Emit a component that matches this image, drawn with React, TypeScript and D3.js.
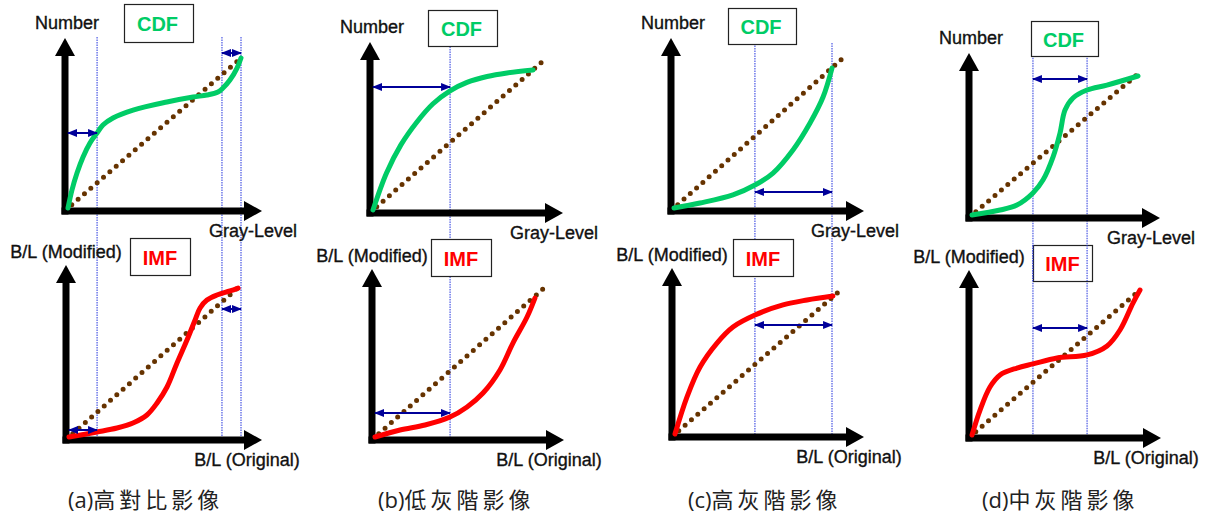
import React from "react";
import * as d3 from "d3";

type Pt = [number, number];
type Arrow = { x0: number; x1: number; y: number };

// ---------- data (normalized gray level 0..1) ----------
const captionTags = ["(a)", "(b)", "(c)", "(d)"];
const captionTexts = ["高對比影像", "低灰階影像", "高灰階影像", "中灰階影像"];

const cdfA: Pt[] = [[0,0],[0.023,0.12],[0.052,0.233],[0.087,0.34],[0.127,0.433],[0.168,0.5],[0.202,0.553],[0.26,0.6],[0.376,0.653],[0.572,0.707],[0.723,0.74],[0.803,0.753],[0.867,0.773],[0.896,0.8],[0.936,0.853],[0.977,0.933],[1,1]];
const imfA: Pt[] = [[0,0],[0.163,0.033],[0.279,0.059],[0.372,0.092],[0.453,0.145],[0.512,0.224],[0.57,0.329],[0.628,0.487],[0.686,0.638],[0.733,0.77],[0.762,0.849],[0.802,0.901],[0.86,0.934],[0.936,0.961],[0.983,0.98]];
const cdfB: Pt[] = [[0,0],[0.08,0.25],[0.165,0.44],[0.26,0.595],[0.355,0.718],[0.456,0.805],[0.556,0.862],[0.675,0.902],[0.793,0.926],[0.947,0.946]];
const imfB: Pt[] = [[0,0],[0.149,0.047],[0.298,0.081],[0.446,0.135],[0.548,0.203],[0.643,0.297],[0.744,0.453],[0.821,0.635],[0.905,0.811],[0.952,0.939]];
const cdfC: Pt[] = [[0,0],[0.154,0.033],[0.349,0.087],[0.479,0.153],[0.586,0.233],[0.704,0.387],[0.805,0.567],[0.882,0.74],[0.935,0.933]];
const imfC: Pt[] = [[0,0],[0.071,0.253],[0.149,0.459],[0.25,0.623],[0.345,0.733],[0.476,0.815],[0.643,0.884],[0.786,0.918],[0.94,0.945]];
const cdfD: Pt[] = [[0,0],[0.168,0.035],[0.269,0.07],[0.365,0.155],[0.425,0.246],[0.485,0.408],[0.527,0.577],[0.557,0.739],[0.605,0.824],[0.689,0.88],[0.808,0.915],[0.994,0.979]];
const imfD: Pt[] = [[0,0],[0.048,0.172],[0.107,0.331],[0.167,0.414],[0.268,0.462],[0.363,0.49],[0.506,0.531],[0.685,0.552],[0.804,0.614],[0.881,0.724],[0.958,0.91],[1,1]];

const thresholdsA = [0.168, 0.89, 1.0];
const thresholdsB = [0.456];
const thresholdsC = [0.479, 0.935];
const thresholdsD = [0.365, 0.689];

const cdfArrowsA: Arrow[] = [{ x0: 0, x1: 0.168, y: 0.5 }, { x0: 0.89, x1: 1, y: 1.033 }];
const cdfArrowsB: Arrow[] = [{ x0: 0, x1: 0.456, y: 0.831 }];
const cdfArrowsC: Arrow[] = [{ x0: 0.479, x1: 0.935, y: 0.107 }];
const cdfArrowsD: Arrow[] = [{ x0: 0.365, x1: 0.689, y: 0.958 }];
const imfArrowsA: Arrow[] = [{ x0: 0, x1: 0.163, y: 0.046 }, { x0: 0.89, x1: 1, y: 0.842 }];
const imfArrowsB: Arrow[] = [{ x0: 0, x1: 0.446, y: 0.162 }];
const imfArrowsC: Arrow[] = [{ x0: 0.476, x1: 0.935, y: 0.747 }];
const imfArrowsD: Arrow[] = [{ x0: 0.363, x1: 0.685, y: 0.738 }];

const diagonal: Pt[] = [[0, 0], [1, 1]];

// ---------- layout ----------
type Box = [number, number, number, number];
interface Layout {
  top: [number, number, number, number]; // ox, oy, w, h
  bot: [number, number, number, number];
  cdfBox: Box;
  imfBox: Box;
  lineTop: number;
  capX: number;
}
const layouts: Layout[] = [
  { top: [68, 208, 173, 150], bot: [69, 437, 172, 152], cdfBox: [124, 4, 69, 38], imfBox: [130, 238, 60, 37], lineTop: 1.14, capX: 68 },
  { top: [373, 210, 169, 148], bot: [375, 437, 168, 148], cdfBox: [428, 10, 69, 36], imfBox: [431, 239, 60, 37], lineTop: 1.105, capX: 378 },
  { top: [674, 208, 169, 150], bot: [675, 434, 168, 146], cdfBox: [728, 8, 68, 36], imfBox: [733, 239, 60, 37], lineTop: 1.1, capX: 688 },
  { top: [972, 215, 167, 142], bot: [972, 435, 168, 145], cdfBox: [1031, 21, 67, 35], imfBox: [1033, 245, 59, 36], lineTop: 1.16, capX: 982 },
];

const panelData = [
  { cdf: cdfA, imf: imfA, thr: thresholdsA, ca: cdfArrowsA, ia: imfArrowsA },
  { cdf: cdfB, imf: imfB, thr: thresholdsB, ca: cdfArrowsB, ia: imfArrowsB },
  { cdf: cdfC, imf: imfC, thr: thresholdsC, ca: cdfArrowsC, ia: imfArrowsC },
  { cdf: cdfD, imf: imfD, thr: thresholdsD, ca: cdfArrowsD, ia: imfArrowsD },
];

const GREEN = "#00cc66";
const RED = "#ff0000";
const BROWN = "#663300";
const NAVY = "#000099";
const VBLUE = "#2233dd";
const FONT = "'Liberation Sans', Arial, sans-serif";

function Axes({ x, y, yLabel, xLabel, xLabelShift }: any) {
  const ax = x(0) - 3;
  const ay = y(0) + 3;
  const yTip = y(1) - 20;
  const xTip = x(1) + 21;
  const L = 18, HW = 10;
  return (
    <g>
      <line x1={ax} y1={ay + 3.5} x2={ax} y2={yTip + L - 1} stroke="#000" strokeWidth={7} />
      <line x1={ax - 3.5} y1={ay} x2={xTip - L + 1} y2={ay} stroke="#000" strokeWidth={7} />
      <polygon points={`${ax},${yTip} ${ax - HW},${yTip + L} ${ax + HW},${yTip + L}`} fill="#000" />
      <polygon points={`${xTip},${ay} ${xTip - L},${ay - HW} ${xTip - L},${ay + HW}`} fill="#000" />
      <text x={ax + yLabel.dx} y={yTip - yLabel.dy} textAnchor="middle" fontFamily={FONT} fontSize={18} fill="#111" stroke="#111" strokeWidth={0.35}>{yLabel.text}</text>
      <text x={xTip - xLabelShift} y={ay + 25.5} textAnchor="middle" fontFamily={FONT} fontSize={18} fill="#111" stroke="#111" strokeWidth={0.35}>{xLabel}</text>
    </g>
  );
}

function Plot({ x, y, curve, color, arrows }: any) {
  const line = d3.line<Pt>().x((d) => x(d[0])).y((d) => y(d[1])).curve(d3.curveCatmullRom.alpha(0.5));
  const diag = d3.line<Pt>().x((d) => x(d[0])).y((d) => y(d[1]));
  return (
    <g>
      <path d={diag(diagonal) || ""} stroke={BROWN} strokeWidth={5} strokeLinecap="round" strokeDasharray="0 8.4" strokeDashoffset={-5} fill="none" />
      <path d={line(curve) || ""} stroke={color} strokeWidth={5} fill="none" strokeLinecap="round" />
      {arrows.map((a: Arrow, i: number) => (
        <line key={i} x1={x(a.x0)} x2={x(a.x1)} y1={y(a.y)} y2={y(a.y)} stroke={NAVY} strokeWidth={2} markerStart="url(#ah)" markerEnd="url(#ah)" />
      ))}
    </g>
  );
}

export default function App() {
  return (
    <svg width={1206} height={517} style={{ position: "absolute", left: 0, top: 0, background: "#fff" }}>
      <defs>
        <marker id="ah" viewBox="0 0 10 8" refX={9} refY={4} markerWidth={10} markerHeight={9} markerUnits="userSpaceOnUse" orient="auto-start-reverse">
          <path d="M0,0 L10,4 L0,8 z" fill={NAVY} />
        </marker>
      </defs>
      {layouts.map((lay, i) => {
        const pd = panelData[i];
        const xT = d3.scaleLinear().domain([0, 1]).range([lay.top[0], lay.top[0] + lay.top[2]]);
        const yT = d3.scaleLinear().domain([0, 1]).range([lay.top[1], lay.top[1] - lay.top[3]]);
        const xB = d3.scaleLinear().domain([0, 1]).range([lay.bot[0], lay.bot[0] + lay.bot[2]]);
        const yB = d3.scaleLinear().domain([0, 1]).range([lay.bot[1], lay.bot[1] - lay.bot[3]]);
        return (
          <g key={i}>
            {pd.thr.map((t, j) => (
              <line key={j} x1={xT(t)} x2={xT(t)} y1={yT(lay.lineTop)} y2={yB(0) + 3} stroke={VBLUE} strokeWidth={1} strokeDasharray="1.5 1" />
            ))}
            <Axes x={xT} y={yT} yLabel={{ text: "Number", dx: 2, dy: 9 }} xLabel="Gray-Level" xLabelShift={9} />
            <Axes x={xB} y={yB} yLabel={{ text: "B/L (Modified)", dx: 0, dy: 7 }} xLabel="B/L (Original)" xLabelShift={15} />
            <Plot x={xT} y={yT} curve={pd.cdf} color={GREEN} arrows={pd.ca} />
            <Plot x={xB} y={yB} curve={pd.imf} color={RED} arrows={pd.ia} />
            <rect x={lay.cdfBox[0] + 0.5} y={lay.cdfBox[1] + 0.5} width={lay.cdfBox[2]} height={lay.cdfBox[3]} fill="#fff" stroke="#222" strokeWidth={1.2} />
            <text x={lay.cdfBox[0] + lay.cdfBox[2] / 2 - 1} y={lay.cdfBox[1] + lay.cdfBox[3] / 2 + 8} textAnchor="middle" fontFamily={FONT} fontWeight="bold" fontSize={20} fill={GREEN}>CDF</text>
            <rect x={lay.imfBox[0] + 0.5} y={lay.imfBox[1] + 0.5} width={lay.imfBox[2]} height={lay.imfBox[3]} fill="#fff" stroke="#222" strokeWidth={1.2} />
            <text x={lay.imfBox[0] + lay.imfBox[2] / 2} y={lay.imfBox[1] + lay.imfBox[3] / 2 + 8} textAnchor="middle" fontFamily={FONT} fontWeight="bold" fontSize={20} fill={RED}>IMF</text>
            {i === 3 && pd.thr.map((t, j) => (
              <line key={"o" + j} x1={xT(t)} x2={xT(t)} y1={lay.imfBox[1]} y2={lay.imfBox[1] + lay.imfBox[3]} stroke={VBLUE} strokeWidth={1} strokeDasharray="1.5 1" />
            ))}
            <text x={lay.capX} y={508} fontFamily="'Noto Sans CJK TC', sans-serif" fontSize={22} fill="#222">
              <tspan fontFamily="'Open Sans', sans-serif" fontSize={22}>{captionTags[i]}</tspan>
              <tspan letterSpacing={4}>{captionTexts[i]}</tspan>
            </text>
          </g>
        );
      })}
    </svg>
  );
}
